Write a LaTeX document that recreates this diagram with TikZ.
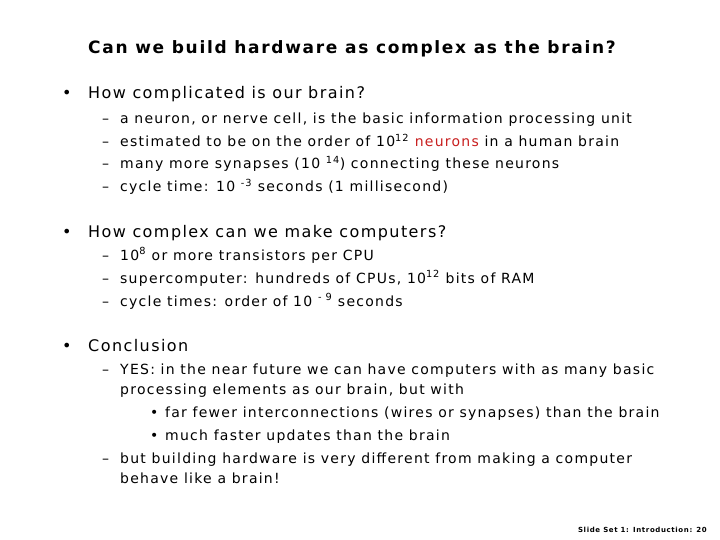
\documentclass[tikz,border=0pt]{standalone}
\usepackage{fontspec}
\setmainfont{DejaVu Sans}[LetterSpace=9]
\newfontfamily\titlefont{DejaVu Sans}[LetterSpace=10]
\usepackage{xcolor}
\definecolor{hl}{RGB}{200,30,30}
\begin{document}
\begin{tikzpicture}[x=1pt,y=-1pt,
  t/.style={anchor=base west,inner sep=0pt,font=\fontsize{16}{19}\selectfont},
  s/.style={anchor=base west,inner sep=0pt,font=\fontsize{14}{17}\selectfont},
  mk/.style={anchor=base west,inner sep=0pt,font=\fontsize{14}{17}\selectfont}]
\useasboundingbox (0,0) rectangle (720,540);
\node[anchor=base,inner sep=0pt,font=\titlefont\fontsize{17}{20}\selectfont\bfseries] (title) at (352,54) {Can we build hardware as complex as the brain?};
% bullet 1
\node[t] (b1d) at (62,99) {•};
\node[t] (b1) at (88,99) {How complicated is our brain?};
\node[mk] (d11) at (102,124) {–}; \node[s] (l11) at (120,124) {a neuron, or nerve cell, is the basic information processing unit};
\node[mk] (d12) at (102,147) {–}; \node[s] (l12) at (120,147) {estimated to be on the order of 10\textsuperscript{12} \textcolor{hl}{neurons} in a human brain};
\node[mk] (d13) at (102,169) {–}; \node[s] (l13) at (120,169) {many more synapses (10 \textsuperscript{14}) connecting these neurons};
\node[mk] (d14) at (102,192) {–}; \node[s] (l14) at (120,192) {cycle time: 10 \textsuperscript{-3} seconds (1 millisecond)};
% bullet 2
\node[t] (b2d) at (62,237) {•};
\node[t] (b2) at (88,237) {How complex can we make computers?};
\node[mk] (d21) at (102,260) {–}; \node[s] (l21) at (120,260) {10\textsuperscript{8} or more transistors per CPU};
\node[mk] (d22) at (102,283) {–}; \node[s] (l22) at (120,283) {supercomputer: hundreds of CPUs, 10\textsuperscript{12} bits of RAM};
\node[mk] (d23) at (102,306) {–}; \node[s] (l23) at (120,306) {cycle times: order of 10 \textsuperscript{- 9} seconds};
% bullet 3
\node[t] (b3d) at (62,351) {•};
\node[t] (b3) at (88,351) {Conclusion};
\node[mk] (d31) at (102,374) {–}; \node[s] (l31) at (120,374) {YES: in the near future we can have computers with as many basic};
\node[s] (l31b) at (120,394) {processing elements as our brain, but with};
\node[s] (e1d) at (150,417) {•}; \node[s] (e1) at (165,417) {far fewer interconnections (wires or synapses) than the brain};
\node[s] (e2d) at (150,440) {•}; \node[s] (e2) at (165,440) {much faster updates than the brain};
\node[mk] (d32) at (102,463) {–}; \node[s] (l32) at (120,463) {but building hardware is very different from making a computer};
\node[s] (l32b) at (120,483) {behave like a brain!};
\node[anchor=base east,inner sep=0pt,font=\fontsize{7}{8}\selectfont\bfseries] (foot) at (707,532) {Slide Set 1: Introduction: 20};
\end{tikzpicture}
\end{document}
